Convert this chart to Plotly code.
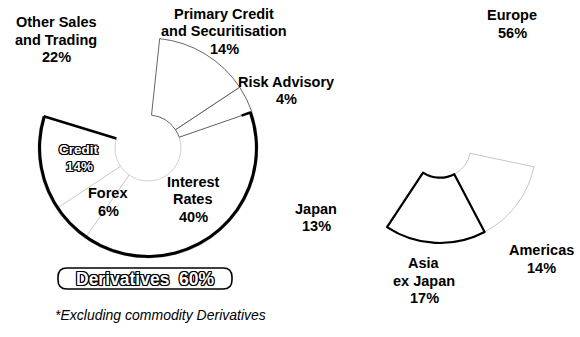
import math
import plotly.graph_objects as go

# ---- data -------------------------------------------------------------
business_names = ["Interest Rates", "Forex", "Credit",
                  "Other Sales and Trading",
                  "Primary Credit and Securitisation", "Risk Advisory"]
business_share = [40, 6, 14, 22, 14, 4]
derivative_names = ["Interest Rates", "Forex", "Credit"]

region_names = ["Japan", "Europe", "Americas", "Asia ex Japan"]
region_share = [13, 56, 14, 17]

label_lines = {
    "Interest Rates": ["Interest", "Rates"],
    "Forex": ["Forex"],
    "Credit": ["Credit"],
    "Other Sales and Trading": ["Other Sales", "and Trading"],
    "Primary Credit and Securitisation": ["Primary Credit", "and Securitisation"],
    "Risk Advisory": ["Risk Advisory"],
    "Japan": ["Japan"],
    "Europe": ["Europe"],
    "Americas": ["Americas"],
    "Asia ex Japan": ["Asia", "ex Japan"],
}
footnote = "*Excluding commodity Derivatives"

# ---- layout helpers (pixel positions on a 580 x 337 canvas) ----------
W, H = 580, 337


def px(x):
    return x / W


def py(y):
    return 1 - y / H


def domain(cx, cy, r):
    return dict(x=[px(cx - r), px(cx + r)], y=[py(cy + r), py(cy - r)])


LEFT_C, LEFT_R, LEFT_HOLE, LEFT_ROT = (148, 148), 110, 0.3, 70.9
RIGHT_C, RIGHT_R, RIGHT_HOLE, RIGHT_ROT = (440, 147), 96, 0.32, 213.5
left_pie = domain(*LEFT_C, LEFT_R)
right_pie = domain(*RIGHT_C, RIGHT_R)

# label anchor: centre x and y of first line, pixels
label_pos = {
    "Other Sales and Trading": (56, 22),
    "Primary Credit and Securitisation": (224, 14),
    "Risk Advisory": (286, 82),
    "Interest Rates": (193, 182),
    "Forex": (108, 193),
    "Credit": (79, 149),
    "Japan": (316, 209),
    "Europe": (512, 15),
    "Americas": (541, 250),
    "Asia ex Japan": (424, 263),
}
LINE_GAP = 17.5
FONT = "Liberation Sans, Arial, sans-serif"
HOLLOW = ("-1px -1px 0 #000, 1px -1px 0 #000, -1px 1px 0 #000, 1px 1px 0 #000, "
          "0 1px 0 #000, 0 -1px 0 #000, 1px 0 0 #000, -1px 0 0 #000")

fig = go.Figure()

# business mix donut
biz_line_col = ["#c4c4c4", "#c4c4c4", "#c4c4c4", "rgba(255,255,255,0)", "#555", "#555"]
biz_line_w = [0.8, 0.8, 0.8, 0, 0.9, 0.9]
fig.add_trace(go.Pie(
    values=business_share, labels=business_names, sort=False,
    direction="clockwise", rotation=LEFT_ROT, hole=LEFT_HOLE, domain=left_pie,
    marker=dict(colors=["white"] * len(business_share),
                line=dict(color=biz_line_col, width=biz_line_w)),
    textinfo="none", hoverinfo="skip", showlegend=False,
))

# heavy rim around the derivatives group
deriv_total = sum(v for n, v in zip(business_names, business_share) if n in derivative_names)
fig.add_trace(go.Pie(
    values=[deriv_total, 100 - deriv_total], labels=["Derivatives", "Other"],
    sort=False, direction="clockwise", rotation=LEFT_ROT, hole=0.972, domain=left_pie,
    marker=dict(colors=["black", "rgba(0,0,0,0)"], line=dict(width=0)),
    textinfo="none", hoverinfo="skip", showlegend=False,
))

# regional donut
reg_line_col = ["rgba(255,255,255,0)", "rgba(255,255,255,0)", "#b8b8b8", "black"]
reg_line_w = [0, 0, 0.8, 2.2]
fig.add_trace(go.Pie(
    values=region_share, labels=region_names, sort=False,
    direction="clockwise", rotation=RIGHT_ROT, hole=RIGHT_HOLE, domain=right_pie,
    marker=dict(colors=["white"] * len(region_share),
                line=dict(color=reg_line_col, width=reg_line_w)),
    textinfo="none", hoverinfo="skip", showlegend=False,
))


def radial(share_pct, r0, r1):
    """Radial segment of the left donut at the boundary after share_pct."""
    a = math.radians(LEFT_ROT + 360 * share_pct / 100)
    cx, cy = LEFT_C
    p0 = (cx + r0 * math.sin(a), cy - r0 * math.cos(a))
    p1 = (cx + r1 * math.sin(a), cy - r1 * math.cos(a))
    return dict(type="line", xref="paper", yref="paper",
                x0=px(p0[0]), y0=py(p0[1]), x1=px(p1[0]), y1=py(p1[1]),
                line=dict(color="black", width=2.6))


# bold ends of the derivatives group
edge_shapes = [
    radial(deriv_total, LEFT_R * LEFT_HOLE, LEFT_R - 1),
    radial(0, LEFT_R * 0.9, LEFT_R - 1),
]

# slice labels
annotations = []
shares = dict(zip(business_names, business_share))
shares.update(zip(region_names, region_share))
for name, (cx, y0) in label_pos.items():
    lines = label_lines[name] + [f"{shares[name]}%"]
    hollow = name == "Credit"
    for i, t in enumerate(lines):
        annotations.append(dict(
            x=px(cx), y=py(y0 + i * LINE_GAP), xref="paper", yref="paper",
            text=f"<b>{t}</b>", showarrow=False, xanchor="center", yanchor="middle",
            font=dict(family=FONT, size=13.5 if hollow else 14.5,
                      color="white" if hollow else "black",
                      shadow=HOLLOW if hollow else "none"),
        ))

# derivatives badge
annotations.append(dict(
    x=px(145), y=py(278.5), xref="paper", yref="paper",
    text=f"<b>Derivatives  {deriv_total}%</b>", showarrow=False,
    xanchor="center", yanchor="middle",
    font=dict(family=FONT, size=17.5, color="white", shadow=HOLLOW),
))
annotations.append(dict(
    x=px(160), y=py(315), xref="paper", yref="paper",
    text=f"<i>{footnote}</i>", showarrow=False, xanchor="center", yanchor="middle",
    font=dict(family=FONT, size=14, color="black"),
))

# rounded frame for the badge
x0, x1, yt, yb = px(58), px(232), py(268), py(289)
rx, ry = 9 / W, 9 / H
path = (f"M {x0+rx},{yt} L {x1-rx},{yt} Q {x1},{yt} {x1},{yt-ry} "
        f"L {x1},{yb+ry} Q {x1},{yb} {x1-rx},{yb} L {x0+rx},{yb} "
        f"Q {x0},{yb} {x0},{yb+ry} L {x0},{yt-ry} Q {x0},{yt} {x0+rx},{yt} Z")

fig.update_layout(
    width=W, height=H, margin=dict(l=0, r=0, t=0, b=0),
    paper_bgcolor="white", plot_bgcolor="white",
    annotations=annotations,
    shapes=[dict(type="path", path=path, xref="paper", yref="paper",
                 line=dict(color="black", width=1.6), fillcolor="rgba(0,0,0,0)")]
    + edge_shapes,
)

fig.write_html("out.html")
